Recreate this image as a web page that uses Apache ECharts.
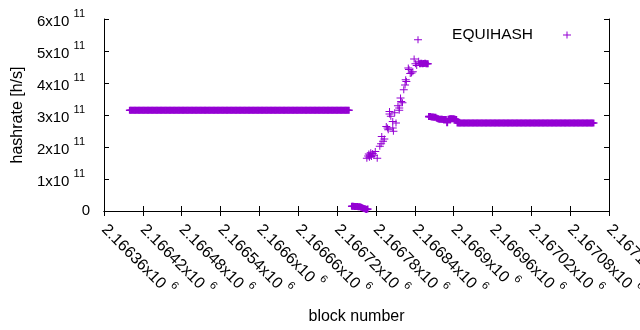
<!DOCTYPE html>
<html>
<head>
<meta charset="utf-8">
<script src="https://cdn.jsdelivr.net/npm/echarts@6/dist/echarts.min.js"></script>
<style>
html,body{margin:0;padding:0;background:#fff;}
#hashChart{width:640px;height:330px;}
</style>
</head>
<body>
<div id="hashChart"></div>
<script>
// hashrate readings in units of 1e11 h/s
var UNIT = 1e11;
var runStep = 2; // dense runs: one reading every 2 blocks

var runAStart = 2166400;
var runAValues = [
	3.15,3.15,3.15,3.15,3.15,3.15,3.15,3.15,3.15,3.15,3.15,3.15,3.15,3.15,3.15,3.15,3.15,
	3.15,3.15,3.15,3.15,3.15,3.15,3.15,3.15,3.15,3.15,3.15,3.15,3.15,3.15,3.15,3.15,3.15,
	3.15,3.15,3.15,3.15,3.15,3.15,3.15,3.15,3.15,3.15,3.15,3.15,3.15,3.15,3.15,3.15,3.15,
	3.15,3.15,3.15,3.15,3.15,3.15,3.15,3.15,3.15,3.15,3.15,3.15,3.15,3.15,3.15,3.15,3.15,
	3.15,3.15,3.15,3.15,3.15,3.15,3.15,3.15,3.15,3.15,3.15,3.15,3.15,3.15,3.15,3.15,3.15,
	3.15,3.15,3.15,3.15,3.15,3.15,3.15,3.15,3.15,3.15,3.15,3.15,3.15,3.15,3.15,3.15,3.15,
	3.15,3.15,3.15,3.15,3.15,3.15,3.15,3.15,3.15,3.15,3.15,3.15,3.15,3.15,3.15,3.15,3.15,
	3.15,3.15,3.15,3.15,3.15,3.15,3.15,3.15,3.15,3.15,3.15,3.15,3.15,3.15,3.15,3.15,3.15,
	3.15,3.15,3.15,3.15,3.15,3.15,3.15,3.15,3.15,3.15,3.15,3.15,3.15,3.15,3.15,3.15,3.15,
	3.15,3.15,3.15,3.15,3.15,3.15,3.15,3.15,3.15,3.15,3.15,3.15,3.15,3.15,3.15,3.15,3.15
];
var runBStart = 2166743;
var runBValues = [0.15,0.15,0.14,0.14,0.14,0.13,0.13,0.12,0.10,0.08,0.07,0.05,0.06];
var runCStart = 2166848;
var runCValues = [4.60,4.62,4.60,4.61,4.62,4.60,4.60];
var runDStart = 2166862;
var runDValues = [2.95,2.95,2.94,2.94,2.93,2.93,2.90,2.88,2.87,2.87,2.87,
	2.86,2.86,2.86,2.76,2.87,2.88,2.88,2.88,2.88,2.87,2.86];
var runEStart = 2166906;
var runEValues = [
	2.75,2.75,2.75,2.75,2.75,2.75,2.75,2.75,2.75,2.75,
	2.75,2.75,2.75,2.75,2.75,2.75,2.75,2.75,2.75,2.75,
	2.75,2.75,2.75,2.75,2.75,2.75,2.75,2.75,2.75,2.75,
	2.75,2.75,2.75,2.75,2.75,2.75,2.75,2.75,2.75,2.75,
	2.75,2.75,2.75,2.75,2.75,2.75,2.75,2.75,2.75,2.75,
	2.75,2.75,2.75,2.75,2.75,2.75,2.75,2.75,2.75,2.75,
	2.75,2.75,2.75,2.75,2.75,2.75,2.75,2.75,2.75,2.75,
	2.75,2.75,2.75,2.75,2.75,2.75,2.75,2.75,2.75,2.75,
	2.75,2.75,2.75,2.75,2.75,2.75,2.75,2.75,2.75,2.75,
	2.75,2.75,2.75,2.75,2.75,2.75,2.75,2.75,2.75,2.75,
	2.75,2.75,2.75,2.75,2.75,2.75
];

// scattered readings while the rate climbs
var rampBlocks = [2166766,2166768,2166769,2166770,2166771,2166772,2166773,2166775,2166777,2166779,
	2166782,2166786,2166788,2166789,2166791,2166793,2166796,2166798,2166799,2166801,
	2166801,2166803,2166806,2166806,2166807,2166809,2166811,2166814,2166816,2166816,
	2166818,2166819,2166821,2166823,2166825,2166826,2166827,2166830,2166831,2166833,
	2166835,2166837,2166839,2166841,2166843,2166845,2166846];
var rampValues = [1.65,1.72,1.78,1.68,1.75,1.82,1.70,1.80,1.74,1.86,
	1.65,2.02,2.10,2.33,2.18,2.25,2.64,2.59,2.54,3.03,
	3.11,2.96,2.80,2.59,2.49,3.07,2.75,3.29,3.15,3.22,
	3.53,3.42,3.38,3.79,3.94,4.10,4.05,4.47,4.42,4.30,
	4.31,4.35,4.75,4.60,4.55,5.35,4.68];

var xMin = 2166360, xMax = 2167140, xStep = 60;
var yMin = 0, yMax = 6e11, yStep = 1e11;

var violet = '#9400d3';
var plusThin = 'path://M0,3h8v1h-8zM3.5,0h1v7h-1z';
var plusDense = 'path://M0,2.7h8v1.6h-8zM3,0h2v7h-2z';
var font = 'Liberation Sans';

function runPoints(start, values){
	return values.map(function(v, i){
		return [start + i * runStep, v * UNIT];
	});
}

var densePoints = [].concat(
	runPoints(runAStart, runAValues),
	runPoints(runBStart, runBValues),
	runPoints(runCStart, runCValues),
	runPoints(runDStart, runDValues),
	runPoints(runEStart, runEValues)
);
var rampPoints = rampBlocks.map(function(b, i){
	return [b, rampValues[i] * UNIT];
});

var supRich = {
	b: {fontSize: 16, fontFamily: font, color: '#000', verticalAlign: 'bottom', padding: [6, 0, 0, 3]},
	by: {fontSize: 15, fontFamily: font, color: '#000', verticalAlign: 'bottom', padding: [6, 0, 0, 0]},
	s: {fontSize: 11, fontFamily: font, color: '#000', verticalAlign: 'top'},
	sy: {fontSize: 11, fontFamily: font, color: '#000', verticalAlign: 'top', padding: [0, 5, 0, 0]}
};

var chart = echarts.init(document.getElementById('hashChart'));
var option = {
	animation: false,
	backgroundColor: '#fff',
	textStyle: {fontFamily: font},
	grid: {left: 104, right: 31, top: 19, bottom: 119, containLabel: false, outerBoundsMode: 'none'},
	legend: {
		right: 64,
		top: 22,
		align: 'right',
		itemWidth: 8,
		itemHeight: 7,
		textStyle: {fontSize: 15.5, fontFamily: font, color: '#000', padding: [0, 25, 0, 0]},
		data: [{name: 'EQUIHASH', icon: plusThin}]
	},
	xAxis: [{
		type: 'value',
		min: xMin,
		max: xMax,
		interval: xStep,
		name: 'block number',
		nameLocation: 'middle',
		nameGap: 98,
		nameTextStyle: {fontSize: 16, color: '#000', fontFamily: font},
		axisLine: {show: true, lineStyle: {color: '#000', width: 1}},
		axisTick: {show: true, inside: true, length: 5, lineStyle: {color: '#000'}},
		splitLine: {show: false},
		axisLabel: {
			rotate: -45,
			margin: 12,
			showMinLabel: true,
			showMaxLabel: true,
			formatter: function(v){
				var s = parseFloat((v / 1e6).toFixed(6));
				return '{b|' + s + 'x10 }{s|6}';
			},
			rich: supRich
		}
	}, {
		type: 'value',
		position: 'top',
		min: xMin,
		max: xMax,
		interval: xStep,
		axisLine: {show: true, lineStyle: {color: '#000', width: 1}},
		axisTick: {show: true, inside: true, length: 5, lineStyle: {color: '#000'}},
		axisLabel: {show: false},
		splitLine: {show: false}
	}],
	yAxis: [{
		type: 'value',
		min: yMin,
		max: yMax,
		interval: yStep,
		name: 'hashrate [h/s]',
		nameLocation: 'middle',
		nameGap: 77,
		nameTextStyle: {fontSize: 16, color: '#000', fontFamily: font},
		axisLine: {show: true, lineStyle: {color: '#000', width: 1}},
		axisTick: {show: true, inside: true, length: 5, lineStyle: {color: '#000'}},
		splitLine: {show: false},
		axisLabel: {
			margin: 14,
			fontSize: 15,
			color: '#000',
			fontFamily: font,
			formatter: function(v){
				if(v === 0){
					return '0';
				}
				return '{by|' + Math.round(v / UNIT) + 'x10 }{sy|11}';
			},
			rich: supRich
		}
	}, {
		type: 'value',
		position: 'right',
		min: yMin,
		max: yMax,
		interval: yStep,
		axisLine: {show: true, lineStyle: {color: '#000', width: 1}},
		axisTick: {show: true, inside: true, length: 5, lineStyle: {color: '#000'}},
		axisLabel: {show: false},
		splitLine: {show: false}
	}],
	series: [{
		name: 'EQUIHASH',
		type: 'scatter',
		symbol: plusDense,
		symbolSize: [8, 7],
		itemStyle: {color: violet, opacity: 1},
		data: densePoints
	}, {
		name: 'EQUIHASH',
		type: 'scatter',
		symbol: plusThin,
		symbolSize: [8, 7],
		itemStyle: {color: violet, opacity: 1},
		data: rampPoints
	}]
};
chart.setOption(option);
</script>
</body>
</html>
